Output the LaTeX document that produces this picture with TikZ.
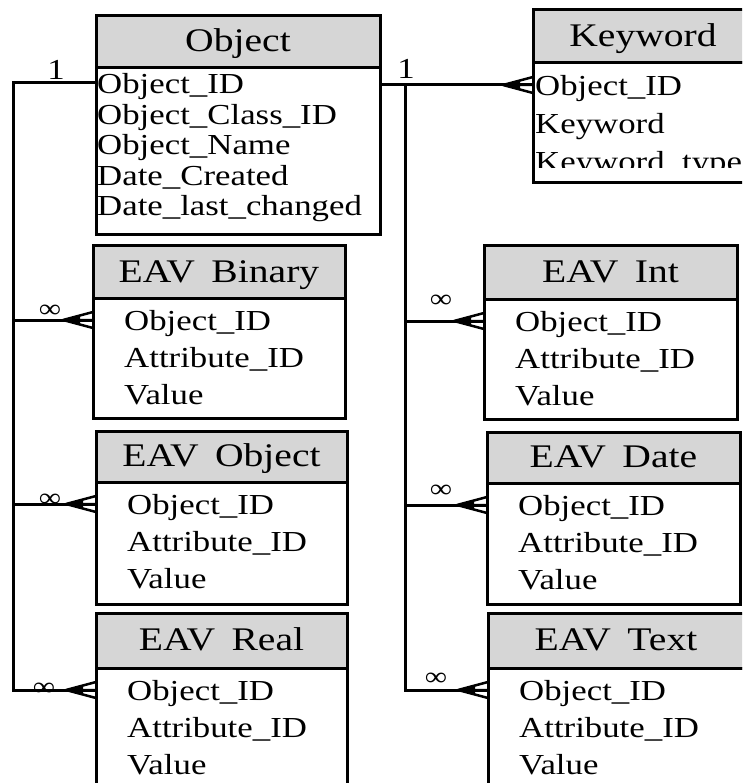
\documentclass[tikz,border=0pt]{standalone}
\usepackage{fontspec}
\setmainfont{Liberation Serif}[FakeStretch = 1.2]
\usetikzlibrary{calc}
\definecolor{headgray}{RGB}{214,214,214}
\tikzset{
    table-head/.style = {draw, line width = 3pt, fill = headgray, inner sep = 0pt, outer sep = 0pt,
        text height = 20pt, text depth = 0pt, font = \fontsize{33}{36}\selectfont},
    table-body/.style = {draw, line width = 3pt, fill = white, inner sep = 0pt, outer sep = 0pt},
    table-field/.style = {anchor = base west, inner sep = 0pt, font = \fontsize{29}{32}\selectfont},
    link/.style = {line width = 3pt},
    card/.style = {anchor = base, inner sep = 0pt, font = \fontsize{29}{32}\selectfont},
    many/.style = {inner sep = 0pt, font = \fontsize{26}{28}\selectfont},
    crow/.pic = {
        \fill (-30, 0) -- (-13, -4) -- (-13, 4) -- cycle;
        \draw [line width = 2.5pt] (-30, 0) -- (0, -8) (-30, 0) -- (0, 0) (-30, 0) -- (0, 8);
    }
}
% name, x, y, width, head height, body height, title
\newcommand{\dbtable}[7]{%
    \node [table-head, minimum width = #4, minimum height = #5, anchor = north west] (#1-head) at (#2, #3) {#7};
    \node [table-body, minimum width = #4, minimum height = #6, anchor = north west] (#1-body) at (#1-head.south west) {};
}
\newcommand{\eavfields}[1]{%
    \foreach \f [count = \i] in {Object\_ID, Attribute\_ID, Value}
        \node [table-field] (#1-f\i) at ($(#1-body.north west) + (31, {32 + 37*(\i - 1)})$) {\f};
}

\begin{document}
\begin{tikzpicture}[x = 1pt, y = -1pt]
    \useasboundingbox (0, 0) rectangle (742, 783);
    \clip (0, 0) rectangle (742, 783);

    % tables
    \dbtable{object}{96}{16}{284}{52}{167}{Object}
    \dbtable{keyword}{533}{10}{220}{53}{120}{Keyword}
    \dbtable{binary}{93}{246}{252}{52}{120}{EAV\enspace Binary}
    \dbtable{eavobj}{96}{431}{251}{51}{122}{EAV\enspace Object}
    \dbtable{real}{96}{613}{251}{55}{200}{EAV\enspace Real}
    \dbtable{int}{484}{246}{253}{53}{120}{EAV\enspace Int}
    \dbtable{date}{487}{432}{253}{51}{121}{EAV\enspace Date}
    \dbtable{text}{488}{613}{256}{55}{200}{EAV\enspace Text}

    % fields
    \foreach \f [count = \i] in {Object\_ID, Object\_Class\_ID, Object\_Name, Date\_Created, Date\_last\_changed}
        \node [table-field] (object-f\i) at (97, {94 + 30.5*(\i - 1)}) {\f};
    \begin{scope}
        \clip (533, 63) rectangle (760, 168);
        \foreach \f [count = \i] in {Object\_ID, Keyword, Keyword\_type}
            \node [table-field] (keyword-f\i) at (535, {96 + 38*(\i - 1)}) {\f};
    \end{scope}
    \eavfields{binary}
    \eavfields{eavobj}
    \eavfields{int}
    \eavfields{date}
    \begin{scope}
        \clip (0, 0) rectangle (742, 775);
        \eavfields{real}
        \eavfields{text}
    \end{scope}

    % ports
    \coordinate (object-port-l) at ($(object-body.north west) + (0, 15)$);
    \coordinate (object-port-r) at ($(object-body.north east) + (0, 17)$);
    \coordinate (keyword-port) at ($(keyword-body.north west) + (0, 22)$);
    \foreach \t in {binary, eavobj, real, int, date, text}
        \coordinate (\t-port) at ($(\t-body.north west) + (0, 22)$);
    \coordinate (trunk-l) at (13, 83);
    \coordinate (trunk-r) at (405, 85);

    % connectors
    \draw [link] (object-port-l) -- (trunk-l) |- (real-port);
    \draw [link] (trunk-l |- binary-port) -- (binary-port);
    \draw [link] (trunk-l |- eavobj-port) -- (eavobj-port);
    \draw [link] (object-port-r) -- (keyword-port);
    \draw [link] (trunk-r) |- (text-port);
    \draw [link] (trunk-r |- int-port) -- (int-port);
    \draw [link] (trunk-r |- date-port) -- (date-port);
    \foreach \t in {keyword, binary, eavobj, real, int, date, text}
        \pic at (\t-port) {crow};

    % cardinalities
    \node [card] (one-l) at (56, 80) {1};
    \node [card] (one-r) at (406, 79) {1};
    \node [many] (many-binary) at (50, 311) {∞};
    \node [many] (many-eavobj) at (50, 500) {∞};
    \node [many] (many-real) at (44, 689) {∞};
    \node [many] (many-int) at (441, 301) {∞};
    \node [many] (many-date) at (441, 491) {∞};
    \node [many] (many-text) at (436, 679) {∞};
\end{tikzpicture}
\end{document}
